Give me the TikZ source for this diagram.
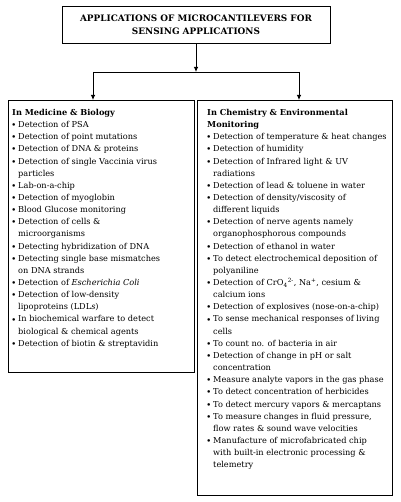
\documentclass[tikz,border=0pt]{standalone}
\usepackage{graphicx}
\usepackage{fontspec}
\setmainfont{DejaVu Serif}
\usetikzlibrary{arrows.meta}
\newcommand{\itm}{\makebox[6pt][l]{\raisebox{0.9pt}{\scalebox{0.8}{$\bullet$}}}}
\newcommand{\cnt}{\hspace*{6pt}}
\begin{document}
\begin{tikzpicture}[x=1pt,y=-1pt,
  box/.style={draw, line width=0.9pt, inner sep=0pt, anchor=north west},
  txt/.style={anchor=north west, inner sep=0pt, align=left, font=\fontsize{8.2}{12.15}\selectfont},
  arr/.style={-{Latex[length=5pt,width=4.5pt]}, line width=0.8pt},
  conn/.style={line width=0.8pt}]
\useasboundingbox (0,0) rectangle (400,502);
\node[box, anchor=center, minimum width=268pt, minimum height=37pt, align=center,
  font=\bfseries\fontsize{8.9}{13}\selectfont] (top) at (196,24.5)
  {APPLICATIONS OF MICROCANTILEVERS FOR\\SENSING APPLICATIONS};
\node[box, minimum width=186pt, minimum height=272pt] (lbox) at (8,100) {};
\node[box, minimum width=195pt, minimum height=395pt] (rbox) at (197,100) {};
\coordinate (j) at (196,72);
\coordinate (jl) at (93,72);
\coordinate (jr) at (299,72);
\draw[arr] (top.south) -- (j);
\draw[conn] (jl) -- (jr);
\draw[arr] (jl) -- (jl |- lbox.north);
\draw[arr] (jr) -- (jr |- rbox.north);
\node[txt] (ltext) at (12,109) {\textbf{In Medicine \& Biology}\\
\itm Detection of PSA\\
\itm Detection of point mutations\\
\itm Detection of DNA \& proteins\\
\itm Detection of single Vaccinia virus\\
\cnt particles\\
\itm Lab-on-a-chip\\
\itm Detection of myoglobin\\
\itm Blood Glucose monitoring\\
\itm Detection of cells \&\\
\cnt microorganisms\\
\itm Detecting hybridization of DNA\\
\itm Detecting single base mismatches\\
\cnt on DNA strands\\
\itm Detection of \textit{Escherichia Coli}\\
\itm Detection of low-density\\
\cnt lipoproteins (LDL\textit{s})\\
\itm In biochemical warfare to detect\\
\cnt biological \& chemical agents\\
\itm Detection of biotin \& streptavidin};
\node[txt] (rtext) at (207,109) {\textbf{In Chemistry \& Environmental}\\
\textbf{Monitoring}\\
\itm Detection of temperature \& heat changes\\
\itm Detection of humidity\\
\itm Detection of Infrared light \& UV\\
\cnt radiations\\
\itm Detection of lead \& toluene in water\\
\itm Detection of density/viscosity of\\
\cnt different liquids\\
\itm Detection of nerve agents namely\\
\cnt organophosphorous compounds\\
\itm Detection of ethanol in water\\
\itm To detect electrochemical deposition of\\
\cnt polyaniline\\
\itm Detection of CrO\textsubscript{4}\textsuperscript{2-}, Na\textsuperscript{+}, cesium \&\\
\cnt calcium ions\\
\itm Detection of explosives (nose-on-a-chip)\\
\itm To sense mechanical responses of living\\
\cnt cells\\
\itm To count no. of bacteria in air\\
\itm Detection of change in pH or salt\\
\cnt concentration\\
\itm Measure analyte vapors in the gas phase\\
\itm To detect concentration of herbicides\\
\itm To detect mercury vapors \& mercaptans\\
\itm To measure changes in fluid pressure,\\
\cnt flow rates \& sound wave velocities\\
\itm Manufacture of microfabricated chip\\
\cnt with built-in electronic processing \&\\
\cnt telemetry};
\end{tikzpicture}
\end{document}
